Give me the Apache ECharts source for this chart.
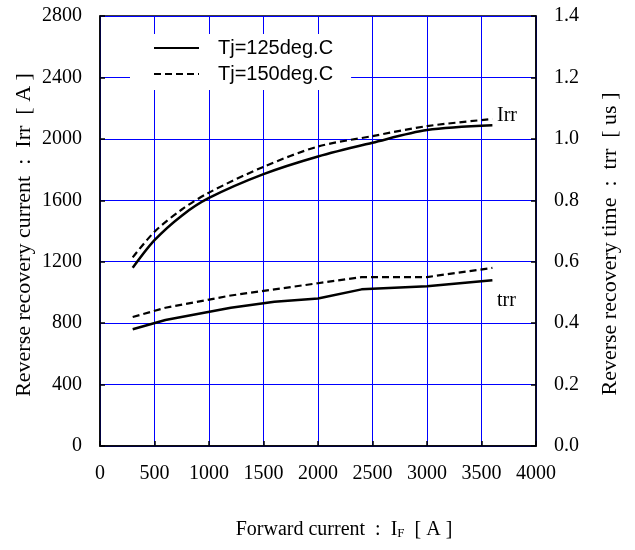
<!DOCTYPE html>
<html><head><meta charset="utf-8">
<script src="https://cdn.jsdelivr.net/npm/echarts@6/dist/echarts.min.js"></script>
<style>html,body{margin:0;padding:0;background:#fff}#c{width:635px;height:550px}</style>
</head><body><div id="c"></div>
<script>
// Forward current IF [A]
const irrX = [300, 500, 750, 1000, 1500, 2000, 2500, 3000, 3600];
const irr125 = [1160, 1340, 1500, 1615, 1770, 1885, 1975, 2057, 2088];
const irr150 = [1228, 1395, 1540, 1650, 1818, 1950, 2018, 2083, 2129];
const trrX = [300, 600, 1200, 1600, 2000, 2400, 3000, 3600];
const trr125 = [0.38, 0.41, 0.45, 0.47, 0.48, 0.51, 0.52, 0.54];
const trr150 = [0.42, 0.45, 0.49, 0.51, 0.53, 0.55, 0.55, 0.58];
const seriesNames = ['Tj=125deg.C', 'Tj=150deg.C'];
const xTitle = 'Forward current  :  I{s|F}  [ A ]';
const yLeftTitle = 'Reverse recovery current  :  Irr  [ A ]';
const yRightTitle = 'Reverse recovery time  :  trr  [ us ]';

const pair = (xs, ys) => xs.map((x, i) => [x, ys[i]]);
const serif = '"Liberation Serif","Times New Roman",serif';
const sans = '"Liberation Sans",Arial,sans-serif';
const chart = echarts.init(document.getElementById('c'));
const axisCommon = {
  axisLine: {show: true, lineStyle: {color: '#000', width: 1.5}},
  axisTick: {show: true, inside: true, length: 5, lineStyle: {color: '#000', width: 1.5}},
  splitLine: {show: true, lineStyle: {color: '#0000ff', width: 1}},
  axisLabel: {color: '#000', fontFamily: serif, fontSize: 20, margin: 18, formatter: v => String(v)}
};
chart.setOption({
  animation: false,
  grid: {left: 100, right: 99, top: 16, bottom: 104, show: true, borderColor: '#000', borderWidth: 1.5},
  legend: {
    left: 130, top: 34, orient: 'vertical',
    data: seriesNames.map(n => ({name: n})),
    backgroundColor: '#fff', padding: [4, 18, 6, 23], itemGap: 6,
    itemWidth: 45, itemHeight: 16,
    itemStyle: {opacity: 0},
    textStyle: {fontFamily: sans, fontSize: 20, color: '#000', padding: [0, 0, 0, 14]}
  },
  xAxis: Object.assign({}, axisCommon, {type: 'value', min: 0, max: 4000, interval: 500}),
  yAxis: [
    Object.assign({}, axisCommon, {type: 'value', min: 0, max: 2800, interval: 400}),
    Object.assign({}, axisCommon, {type: 'value', min: 0, max: 1.4, interval: 0.2, position: 'right',
      splitLine: {show: false},
      axisLabel: Object.assign({}, axisCommon.axisLabel, {formatter: v => v.toFixed(1)})})
  ],
  series: [
    {name: seriesNames[0], type: 'line', data: pair(irrX, irr125), smooth: 0.3, symbol: 'none',
     lineStyle: {color: '#000', width: 2.5, type: 'solid'}, itemStyle: {color: '#000'}},
    {name: seriesNames[1], type: 'line', data: pair(irrX, irr150), smooth: 0.3, symbol: 'none',
     lineStyle: {color: '#000', width: 2.2, type: [7, 4]}, itemStyle: {color: '#000'}},
    {name: seriesNames[0], type: 'line', yAxisIndex: 1, data: pair(trrX, trr125), symbol: 'none',
     lineStyle: {color: '#000', width: 2.5, type: 'solid'}, itemStyle: {color: '#000'}},
    {name: seriesNames[1], type: 'line', yAxisIndex: 1, data: pair(trrX, trr150), symbol: 'none',
     lineStyle: {color: '#000', width: 2.2, type: [7, 4]}, itemStyle: {color: '#000'}}
  ],
  graphic: [
    {type: 'text', left: 497, top: 106, style: {text: 'Irr', font: '20px ' + serif, fill: '#000'}},
    {type: 'text', left: 497, top: 291, style: {text: 'trr', font: '20px ' + serif, fill: '#000'}},
    {type: 'text', x: 24, y: 235, rotation: Math.PI / 2,
     style: {text: yLeftTitle, font: '22px ' + serif, fill: '#000', align: 'center', verticalAlign: 'middle'}},
    {type: 'text', x: 610, y: 244, rotation: Math.PI / 2,
     style: {text: yRightTitle, font: '22px ' + serif, fill: '#000', align: 'center', verticalAlign: 'middle'}},
    {type: 'text', x: 344, y: 530,
     style: {text: xTitle, font: '20px ' + serif, fill: '#000', align: 'center', verticalAlign: 'middle',
       rich: {s: {fontSize: 13, fontFamily: serif, verticalAlign: 'bottom', padding: [4, 0, 0, 0]}}}}
  ]
});
</script></body></html>
